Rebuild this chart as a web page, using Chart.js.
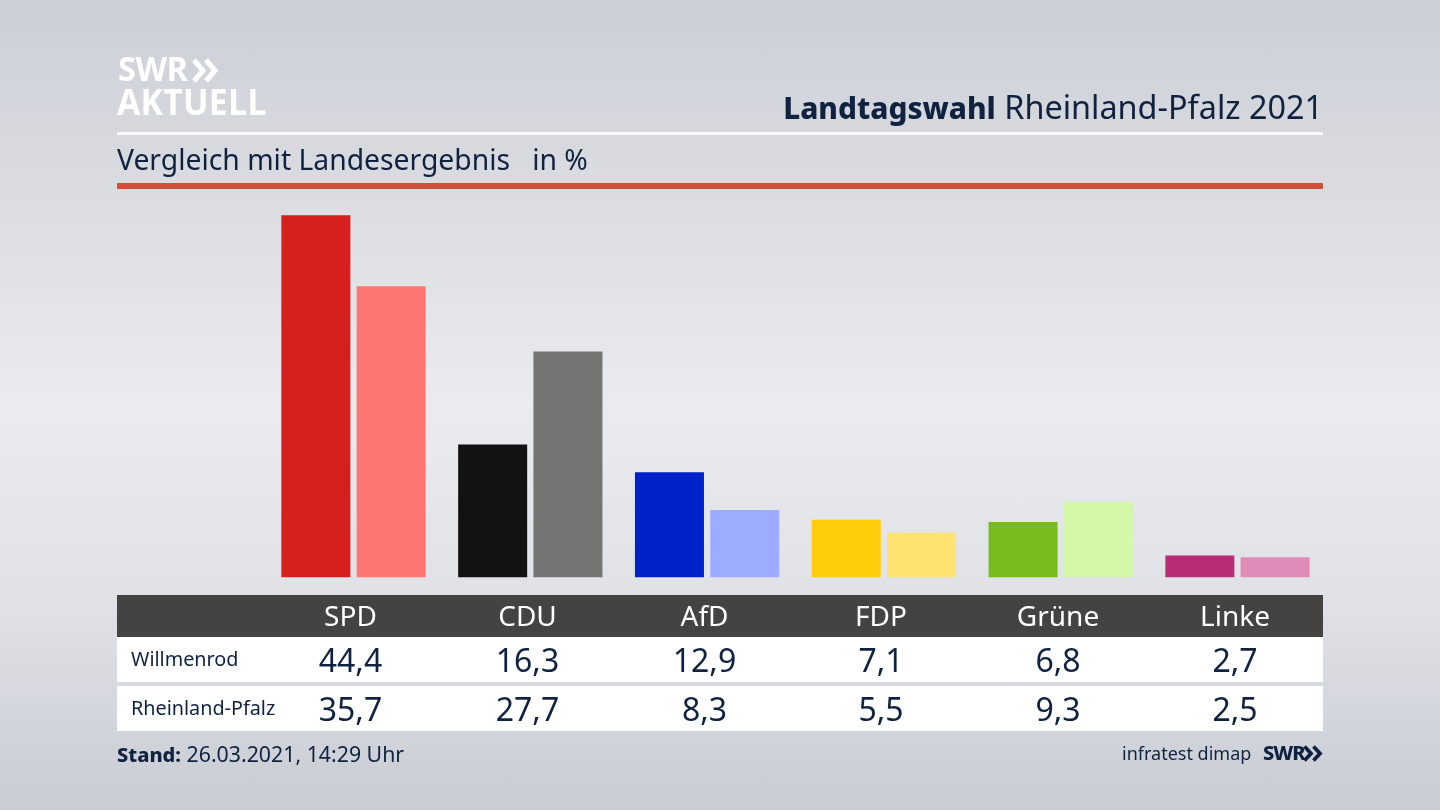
<!DOCTYPE html>
<html lang="de">
<head>
<meta charset="utf-8">
<title>Landtagswahl Rheinland-Pfalz 2021</title>
<script src="https://cdn.jsdelivr.net/npm/chart.js@4"></script>
<style>
  html, body { margin: 0; padding: 0; }
  body {
    position: relative;
    width: 1440px;
    height: 810px;
    overflow: hidden;
    font-family: "Noto Sans", sans-serif;
    color: #0f2240;
    background: linear-gradient(180deg, #cbcfd6 0%, #d9dbe0 22%, #e9ebef 50%, #dfe1e6 75%, #c8ccd3 100%);
  }
  .abs { position: absolute; white-space: nowrap; }
  canvas { position: absolute; left: 0; top: 0; }
  .logo { color: #fff; font-family: "Open Sans", sans-serif; font-weight: 700; transform-origin: left center; }
  .cell { position: absolute; transform: translateX(-50%); white-space: nowrap; text-align: center; }
</style>
</head>
<body>
<canvas id="chart" width="1440" height="810"></canvas>

<div class="abs logo" style="left:118px;top:48px;font-size:34px;line-height:40px;letter-spacing:-0.5px;transform:scaleX(.96)">SWR</div>
<svg class="abs" style="left:192px;top:58px" width="28" height="25" viewBox="0 0 28 25">
  <polyline points="2,2 11,12.5 2,23" fill="none" stroke="#fff" stroke-width="5"/>
  <polyline points="14,2 23,12.5 14,23" fill="none" stroke="#fff" stroke-width="5"/>
</svg>
<div class="abs logo" style="left:117px;top:81px;font-size:36px;line-height:42px;letter-spacing:0.2px;transform:scaleX(.94)">AKTUELL</div>

<div class="abs" style="right:117px;top:85px;font-size:32.4px;line-height:42px"><b style="font-weight:800;font-size:29.8px">Landtagswahl</b> Rheinland-Pfalz 2021</div>
<div class="abs" style="left:117px;top:132px;width:1206px;height:3px;background:#fff"></div>
<div class="abs" style="left:117px;top:140px;font-size:28.3px;line-height:38px">Vergleich mit Landesergebnis&nbsp;&nbsp; in %</div>
<div class="abs" style="left:117px;top:183px;width:1206px;height:6px;background:#cd5138"></div>

<div id="table"></div>

<div class="abs" style="left:117px;top:739px;font-size:21.3px;line-height:30px"><b style="font-weight:800;font-size:20px">Stand:</b> 26.03.2021, 14:29 Uhr</div>
<div class="abs" style="left:1122px;top:739px;font-size:18px;line-height:28px">infratest dimap</div>
<div class="abs" style="left:1263px;top:739px;font-size:20px;line-height:28px;font-weight:800;letter-spacing:-1px">SWR</div>
<svg class="abs" style="left:1303px;top:745px" width="21" height="17" viewBox="0 0 21 17">
  <polyline points="1.5,1.5 8,8.5 1.5,15.5" fill="none" stroke="#0f2240" stroke-width="3.8"/>
  <polyline points="10.5,1.5 17,8.5 10.5,15.5" fill="none" stroke="#0f2240" stroke-width="3.8"/>
</svg>

<script>
const parties = ["SPD", "CDU", "AfD", "FDP", "Grüne", "Linke"];
const willmenrod = [44.4, 16.3, 12.9, 7.1, 6.8, 2.7];
const rheinlandPfalz = [35.7, 27.7, 8.3, 5.5, 9.3, 2.5];
const willmenrodColors = ["#d61f1f", "#121212", "#0022c8", "#ffcc0a", "#78bc1c", "#b82e74"];
const landColors = ["#ff7670", "#747472", "#9eacff", "#ffe272", "#d5f7a8", "#e08ab8"];
const rowLabels = ["Willmenrod", "Rheinland-Pfalz"];

const labelCenters = [350.5, 527.5, 704.5, 881, 1058, 1235];

const format = (v) => v.toFixed(1).replace(".", ",");

const buildTable = () => {
  const table = document.getElementById("table");
  let html =
    '<div class="abs" style="left:117px;top:595px;width:1206px;height:42px;background:#444342"></div>' +
    '<div class="abs" style="left:117px;top:637px;width:1206px;height:45px;background:#fff"></div>' +
    '<div class="abs" style="left:117px;top:686px;width:1206px;height:45px;background:#fff"></div>' +
    `<div class="abs" style="left:131px;top:645px;font-size:19.8px;line-height:28px">${rowLabels[0]}</div>` +
    `<div class="abs" style="left:131px;top:694px;font-size:19.8px;line-height:28px">${rowLabels[1]}</div>`;
  parties.forEach((party, i) => {
    const left = labelCenters[i];
    html += `<div class="cell" style="left:${left}px;top:596px;font-size:28px;line-height:38px;color:#fff">${party}</div>`;
    html += `<div class="cell" style="left:${left}px;top:639px;font-size:32px;line-height:42px">${format(willmenrod[i])}</div>`;
    html += `<div class="cell" style="left:${left}px;top:688px;font-size:32px;line-height:42px">${format(rheinlandPfalz[i])}</div>`;
  });
  table.innerHTML = html;
};

const renderChart = () => {
  return new Chart(document.getElementById("chart"), {
    type: "bar",
    data: {
      labels: parties,
      datasets: [
        { label: rowLabels[0], data: willmenrod, backgroundColor: willmenrodColors },
        { label: rowLabels[1], data: rheinlandPfalz, backgroundColor: landColors },
      ],
    },
    options: {
      responsive: false,
      animation: false,
      barPercentage: 0.917,
      categoryPercentage: 0.8515,
      layout: { padding: { left: 265.1, right: 114.1, top: 202.3, bottom: 232.4 } },
      plugins: {
        legend: { display: false },
        tooltip: { enabled: false },
      },
      scales: {
        x: { display: false },
        y: { display: false, min: 0, max: 46 },
      },
    },
  });
};

buildTable();
renderChart();
</script>
</body>
</html>
